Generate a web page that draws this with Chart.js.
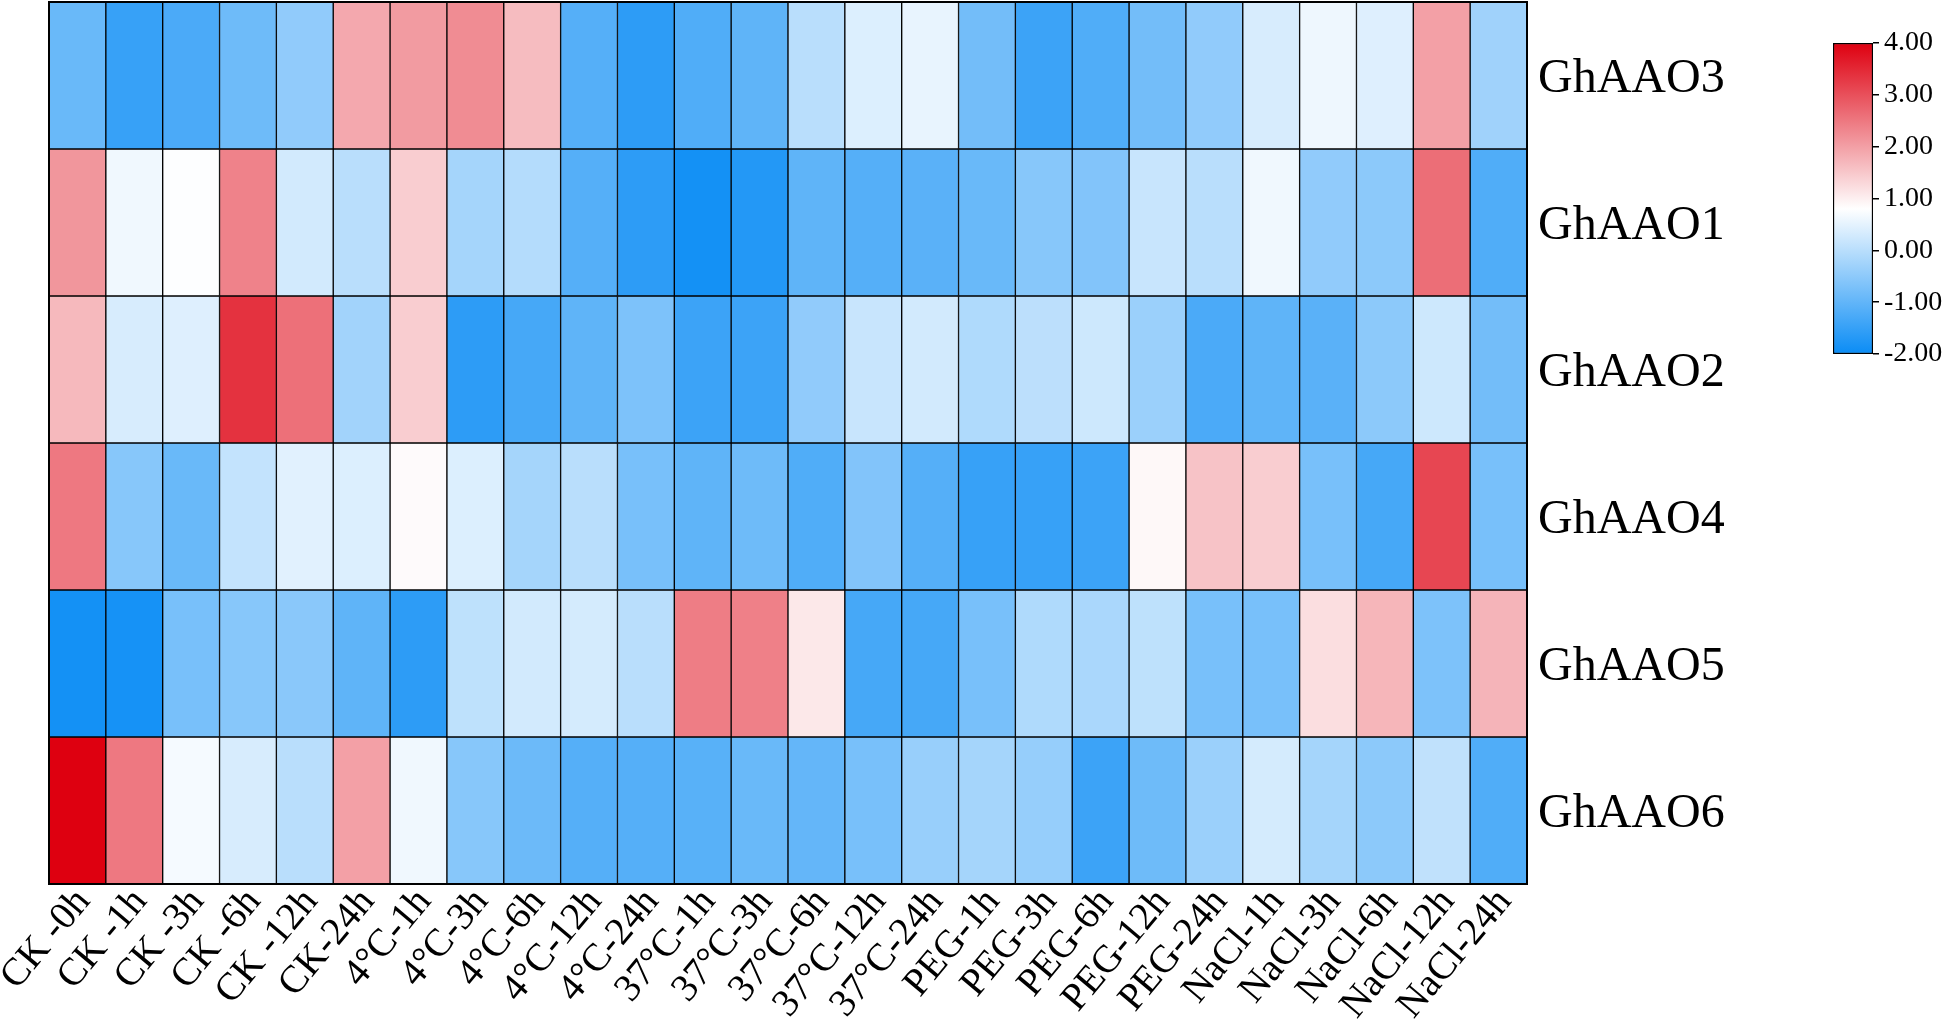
<!DOCTYPE html>
<html>
<head>
<meta charset="utf-8">
<script src="https://cdn.jsdelivr.net/npm/chart.js@4.4.1/dist/chart.umd.min.js"></script>
<style>
  html, body { margin: 0; padding: 0; background: #fff; }
  #wrap { position: relative; width: 1944px; height: 1022px; overflow: hidden; }
  #heatmap { position: absolute; left: 0; top: 0; }
  #colorbar { position: absolute; left: 1780px; top: 0; }
</style>
</head>
<body>
<div id="wrap">
  <canvas id="heatmap" width="1944" height="1022"></canvas>
  <canvas id="colorbar" width="164" height="400"></canvas>
</div>
<script>
// Conditions (columns) and genes (rows, top to bottom)
const conditions = ['CK -0h', 'CK -1h', 'CK -3h', 'CK -6h', 'CK -12h', 'CK-24h',
    '4°C-1h', '4°C-3h', '4°C-6h', '4°C-12h', '4°C-24h',
    '37°C-1h', '37°C-3h', '37°C-6h', '37°C-12h', '37°C-24h',
    'PEG-1h', 'PEG-3h', 'PEG-6h', 'PEG-12h', 'PEG-24h',
    'NaCl-1h', 'NaCl-3h', 'NaCl-6h', 'NaCl-12h', 'NaCl-24h'];
const genes = ['GhAAO3', 'GhAAO1', 'GhAAO2', 'GhAAO4', 'GhAAO5', 'GhAAO6'];

// Expression values
const ghAAO3 = [-0.91, -1.49, -1.26, -0.86, -0.46, 1.89, 2.06, 2.24, 1.64, -1.14, -1.6, -1.2, -1.03, 0.0, 0.4, 0.54, -0.8, -1.43, -1.2, -0.8, -0.46, 0.34, 0.61, 0.42, 1.99, -0.29];
const ghAAO1 = [2.12, 0.63, 0.78, 2.37, 0.29, 0.0, 1.43, -0.23, -0.06, -1.14, -1.6, -1.89, -1.71, -1.03, -1.14, -1.09, -0.91, -0.57, -0.63, 0.17, 0.0, 0.63, -0.46, -0.51, 2.62, -1.2];
const ghAAO2 = [1.68, 0.34, 0.42, 3.37, 2.59, -0.26, 1.43, -1.6, -1.31, -1.03, -0.69, -1.43, -1.43, -0.46, 0.17, 0.29, -0.11, 0.03, 0.23, -0.34, -1.26, -1.03, -1.09, -0.51, 0.23, -0.8];
const ghAAO4 = [2.49, -0.57, -0.91, 0.11, 0.46, 0.4, 0.86, 0.4, -0.23, 0.0, -0.74, -1.03, -0.86, -1.2, -0.63, -1.14, -1.49, -1.49, -1.43, 0.89, 1.55, 1.43, -0.74, -1.31, 3.12, -0.74];
const ghAAO5 = [-1.89, -1.86, -0.74, -0.57, -0.54, -1.03, -1.6, 0.06, 0.29, 0.31, 0.0, 2.43, 2.39, 1.09, -1.31, -1.31, -0.74, -0.11, -0.17, 0.06, -0.74, -0.74, 1.21, 1.72, -0.69, 1.74];
const ghAAO6 = [4.0, 2.49, 0.69, 0.34, 0.0, 1.99, 0.63, -0.57, -0.88, -1.14, -1.14, -1.11, -0.91, -0.97, -0.74, -0.38, -0.23, -0.4, -1.43, -0.86, -0.34, 0.31, -0.23, -0.51, 0.08, -1.2];
const rows = [ghAAO3, ghAAO1, ghAAO2, ghAAO4, ghAAO5, ghAAO6];

// Colour scale
const scaleTicks = [-2, -1, 0, 1, 2, 3, 4];
const V_MIN = -2, V_MID = 0.8, V_MAX = 4;
const BLUE = [10, 140, 245], WHITE = [255, 255, 255], RED = [222, 0, 16];

function mix(a, b, t) {
    return 'rgb(' + a.map((c, i) => Math.round(c + (b[i] - c) * t)).join(',') + ')';
}
function colorFor(v) {
    if (v <= V_MID) return mix(WHITE, BLUE, Math.min(1, (V_MID - v) / (V_MID - V_MIN)));
    return mix(WHITE, RED, Math.min(1, (v - V_MID) / (V_MAX - V_MID)));
}

const serif = '"Liberation Serif", "Times New Roman", serif';

// frame round the heatmap
const framePlugin = {
    id: 'frame',
    afterDatasetsDraw(chart) {
        const { ctx, chartArea: a } = chart;
        ctx.save();
        ctx.strokeStyle = '#000';
        ctx.lineWidth = 2;
        ctx.strokeRect(a.left, a.top, a.right - a.left, a.bottom - a.top);
        ctx.restore();
    }
};

// --- Heatmap ---
const heatCtx = document.getElementById('heatmap').getContext('2d');
new Chart(heatCtx, {
    type: 'bar',
    data: {
        labels: conditions,
        datasets: rows.map((vals, r) => ({
            label: genes[r],
            data: vals.map(() => [r, r + 1]),
            backgroundColor: vals.map(colorFor),
            borderColor: '#000',
            borderWidth: 1,
            borderSkipped: false,
            barPercentage: 1,
            categoryPercentage: 1,
            grouped: false
        }))
    },
    options: {
        responsive: false,
        animation: false,
        layout: { padding: { left: 49, top: 2, right: 0, bottom: 0 } },
        plugins: { legend: { display: false }, tooltip: { enabled: false } },
        scales: {
            x: {
                grid: { display: false, drawTicks: false },
                border: { display: false },
                ticks: {
                    autoSkip: false,
                    minRotation: 50,
                    maxRotation: 50,
                    padding: -4,
                    labelOffset: 6,
                    color: '#000',
                    font: { family: serif, size: 39 }
                },
                afterFit(scale) {
                    scale.height = 138;
                    scale.paddingLeft = 0;
                    scale.paddingRight = 0;
                }
            },
            y: {
                position: 'right',
                min: 0,
                max: 6,
                reverse: true,
                grid: { display: false, drawTicks: false },
                border: { display: false },
                afterBuildTicks(scale) {
                    scale.ticks = genes.map((g, i) => ({ value: i + 0.5 }));
                },
                ticks: {
                    padding: 11,
                    labelOffset: 4,
                    color: '#000',
                    font: { family: serif, size: 48 },
                    callback: (v) => genes[Math.floor(v)]
                },
                afterFit(scale) {
                    scale.width = 417;
                    scale.paddingTop = 0;
                    scale.paddingBottom = 0;
                }
            }
        }
    },
    plugins: [framePlugin]
});

// --- Colour bar ---
const barCtx = document.getElementById('colorbar').getContext('2d');
new Chart(barCtx, {
    type: 'bar',
    data: {
        labels: [''],
        datasets: [{
            data: [[V_MIN, V_MAX]],
            backgroundColor(context) {
                const chart = context.chart;
                const y = chart.scales.y;
                if (!chart.chartArea || !y) return '#fff';
                const g = chart.ctx.createLinearGradient(0, y.getPixelForValue(V_MIN), 0, y.getPixelForValue(V_MAX));
                g.addColorStop(0, colorFor(V_MIN));
                g.addColorStop((V_MID - V_MIN) / (V_MAX - V_MIN), colorFor(V_MID));
                g.addColorStop(1, colorFor(V_MAX));
                return g;
            },
            borderColor: '#000',
            borderWidth: 1.5,
            borderSkipped: false,
            barPercentage: 1,
            categoryPercentage: 1
        }]
    },
    options: {
        responsive: false,
        animation: false,
        layout: { padding: { left: 53, top: 43, right: 0, bottom: 46 } },
        plugins: { legend: { display: false }, tooltip: { enabled: false } },
        scales: {
            x: { display: false },
            y: {
                position: 'right',
                min: V_MIN,
                max: V_MAX,
                afterBuildTicks(scale) {
                    scale.ticks = scaleTicks.map(v => ({ value: v }));
                },
                grid: { drawOnChartArea: false, drawTicks: true, tickLength: 6, color: '#000', lineWidth: 1.5 },
                border: { display: false },
                ticks: {
                    padding: 5,
                    color: '#000',
                    font: { family: serif, size: 28 },
                    callback: (v) => v.toFixed(2)
                },
                afterFit(scale) {
                    scale.width = 71;
                    scale.paddingTop = 0;
                    scale.paddingBottom = 0;
                }
            }
        }
    }
});
</script>
</body>
</html>
